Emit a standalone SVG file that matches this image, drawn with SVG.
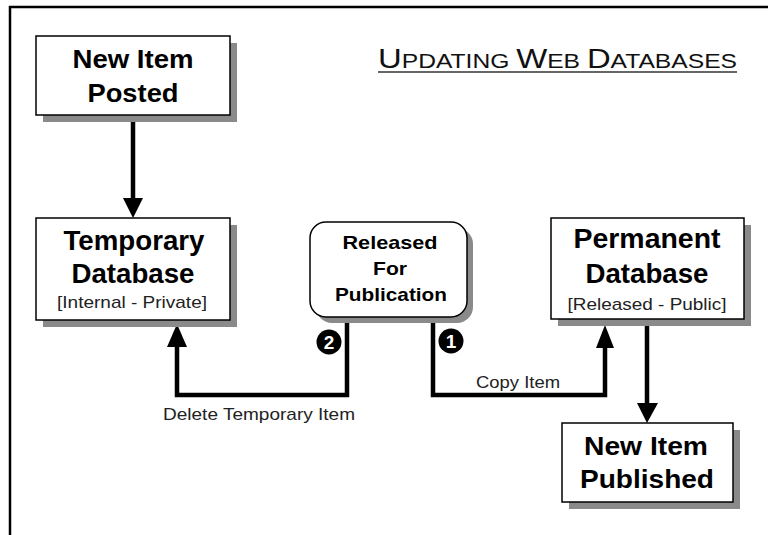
<svg xmlns="http://www.w3.org/2000/svg" width="768" height="535" viewBox="0 0 768 535">
<style>
.box{fill:#fff;stroke:#000;stroke-width:1.5}
.shadow{fill:#8a8a8a}
.b{font-family:"Liberation Sans",Arial,sans-serif;font-weight:bold;fill:#000;text-anchor:middle}
.r{font-family:"Liberation Sans",Arial,sans-serif;fill:#222;text-anchor:middle}
.conn{fill:none;stroke:#000;stroke-width:4.5}
.head{fill:#000}
.num{font-family:"Liberation Sans",Arial,sans-serif;font-weight:bold;fill:#fff;text-anchor:middle;font-size:19px}
</style>
<rect width="768" height="535" fill="#fff"/>
<g id="frame">
<line x1="9" y1="7" x2="768" y2="7" stroke="#000" stroke-width="2.5"/>
<line x1="10" y1="6" x2="10" y2="535" stroke="#000" stroke-width="2.5"/>
</g>
<g id="title">
<text x="378" y="68" font-family="&quot;Liberation Sans&quot;,Arial,sans-serif" font-size="28" fill="#111" textLength="359" lengthAdjust="spacingAndGlyphs">U<tspan font-size="21">PDATING </tspan>W<tspan font-size="21">EB </tspan>D<tspan font-size="21">ATABASES</tspan></text>
<line x1="378" y1="72" x2="737" y2="72" stroke="#333" stroke-width="1.5"/>
</g>
<g id="connectors">
<line class="conn" x1="133" y1="116" x2="133" y2="200"/>
<polygon class="head" points="123,198 143,198 133,218"/>
<polyline class="conn" points="347,318 347,395 177,395 177,344"/>
<polygon class="head" points="167,347 187,347 177,324"/>
<polyline class="conn" points="433,318 433,395 605,395 605,345"/>
<polygon class="head" points="596,348 614,348 605,325"/>
<line class="conn" x1="647" y1="320" x2="647" y2="405"/>
<polygon class="head" points="637,403 658,403 647,423"/>
<text class="r" x="259" y="420" font-size="17" textLength="192" lengthAdjust="spacingAndGlyphs">Delete Temporary Item</text>
<text class="r" x="518" y="388" font-size="17" textLength="84" lengthAdjust="spacingAndGlyphs">Copy Item</text>
<circle cx="329" cy="342" r="12.5" fill="#000"/>
<text class="num" x="329" y="349">2</text>
<circle cx="451" cy="341" r="12.5" fill="#000"/>
<text class="num" x="451" y="348">1</text>
</g>
<g id="new-item-posted">
<rect class="shadow" x="43" y="43" width="194" height="79"/>
<rect class="box" x="36" y="36" width="194" height="79"/>
<text class="b" x="133" y="68" font-size="25" textLength="121" lengthAdjust="spacingAndGlyphs">New Item</text>
<text class="b" x="133" y="102" font-size="25" textLength="91" lengthAdjust="spacingAndGlyphs">Posted</text>
</g>
<g id="temporary-database">
<rect class="shadow" x="43" y="225" width="194" height="102"/>
<rect class="box" x="36" y="218" width="194" height="102"/>
<text class="b" x="134" y="250" font-size="27" textLength="141" lengthAdjust="spacingAndGlyphs">Temporary</text>
<text class="b" x="133" y="283" font-size="27" textLength="123" lengthAdjust="spacingAndGlyphs">Database</text>
<text class="r" x="132" y="308" font-size="17" textLength="150" lengthAdjust="spacingAndGlyphs">[Internal - Private]</text>
</g>
<g id="released-for-publication">
<rect class="shadow" x="316" y="228" width="157" height="95" rx="16"/>
<rect class="box" x="310" y="222" width="157" height="95" rx="16"/>
<text class="b" x="390" y="249" font-size="19" textLength="95" lengthAdjust="spacingAndGlyphs">Released</text>
<text class="b" x="390" y="275" font-size="19" textLength="34" lengthAdjust="spacingAndGlyphs">For</text>
<text class="b" x="391" y="301" font-size="19" textLength="112" lengthAdjust="spacingAndGlyphs">Publication</text>
</g>
<g id="permanent-database">
<rect class="shadow" x="558" y="225" width="193" height="101"/>
<rect class="box" x="551" y="218" width="193" height="101"/>
<text class="b" x="647" y="248" font-size="27" textLength="147" lengthAdjust="spacingAndGlyphs">Permanent</text>
<text class="b" x="647" y="283" font-size="27" textLength="123" lengthAdjust="spacingAndGlyphs">Database</text>
<text class="r" x="647" y="310" font-size="17" textLength="159" lengthAdjust="spacingAndGlyphs">[Released - Public]</text>
</g>
<g id="new-item-published">
<rect class="shadow" x="569" y="430" width="171" height="79"/>
<rect class="box" x="562" y="423" width="171" height="79"/>
<text class="b" x="646" y="455" font-size="25" textLength="124" lengthAdjust="spacingAndGlyphs">New Item</text>
<text class="b" x="647" y="488" font-size="25" textLength="134" lengthAdjust="spacingAndGlyphs">Published</text>
</g>
</svg>
